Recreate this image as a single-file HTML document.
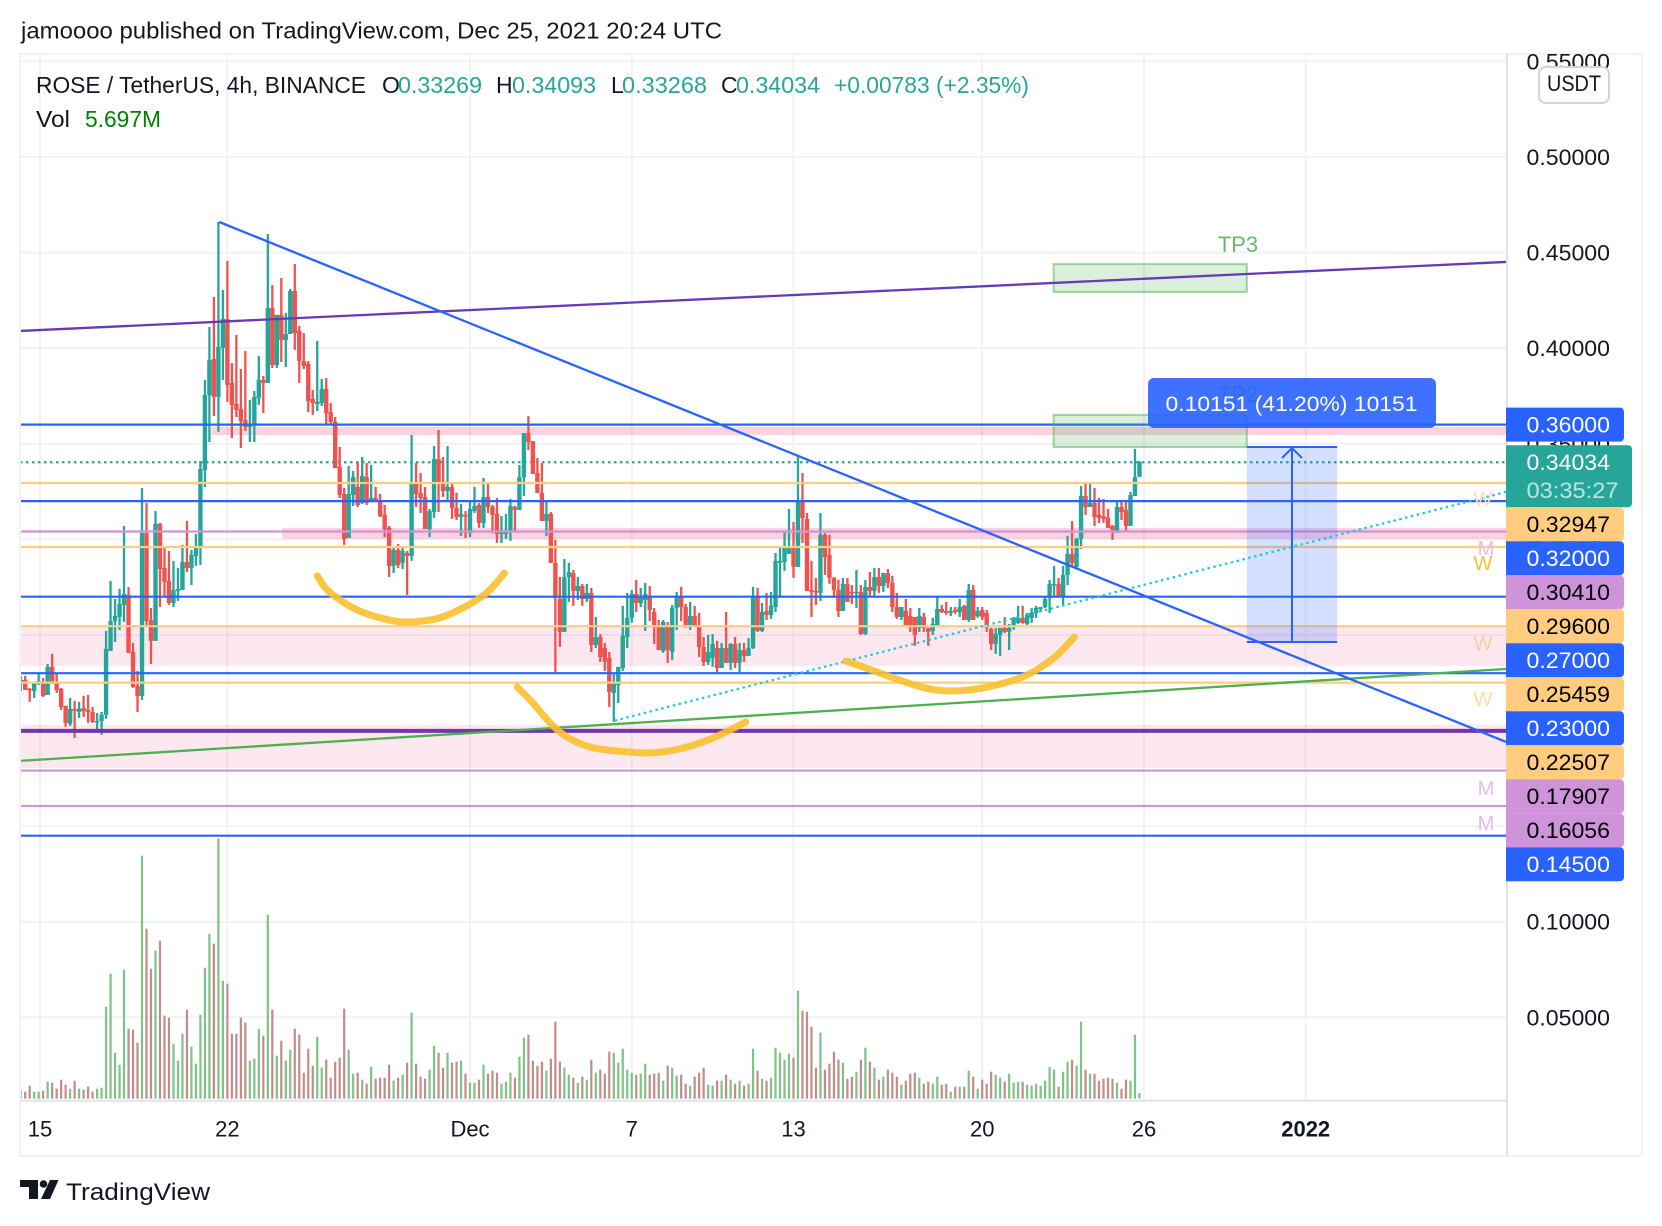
<!DOCTYPE html>
<html lang="en">
<head>
<meta charset="utf-8">
<title>ROSE / TetherUS chart</title>
<style>
html,body{margin:0;padding:0;background:#fff;}
svg{display:block;font-family:"Liberation Sans",sans-serif;}
</style>
</head>
<body>
<svg id="chart" xmlns="http://www.w3.org/2000/svg" width="1662" height="1226" viewBox="0 0 1662 1226">
  <defs>
    <clipPath id="plot-clip"><rect x="20" y="54" width="1487" height="1046"/></clipPath>
    <clipPath id="axis-clip"><rect x="1508" y="54" width="134" height="1046"/></clipPath>
  </defs>
  <rect x="0" y="0" width="1662" height="1226" fill="#ffffff"/>
  <text x="21" y="38.5" font-size="23" fill="#131722" textLength="701" lengthAdjust="spacingAndGlyphs">jamoooo published on TradingView.com, Dec 25, 2021 20:24 UTC</text>
  <g id="grid"></g>
  <g id="zones" clip-path="url(#plot-clip)"></g>
  <g id="last-line" clip-path="url(#plot-clip)"></g>
  <g id="volume" clip-path="url(#plot-clip)"></g>
  <g id="candles" clip-path="url(#plot-clip)"></g>
  <g id="tools" clip-path="url(#plot-clip)"></g>
  <g font-size="20" text-anchor="middle">
    <text x="1483" y="506" fill="#ffe0b2">W</text>
    <text x="1486" y="555" fill="#e1bee7">M</text>
    <text x="1483" y="570" fill="#fbc02d">W</text>
    <text x="1483" y="650" fill="#ffcc9c">W</text>
    <text x="1483" y="706" fill="#ffdca0">W</text>
    <text x="1486" y="795" fill="#e1bee7">M</text>
    <text x="1486" y="830" fill="#e1bee7">M</text>
  </g>
  <text x="1238" y="252" font-size="22" text-anchor="middle" fill="#66bb6a">TP3</text>
  <text x="1238" y="402" font-size="22" text-anchor="middle" fill="#66bb6a">TP2</text>
  <g>
    <rect x="1148" y="378" width="288" height="50" rx="6" fill="#2962ff" fill-opacity="0.9"/>
    <text x="1165.5" y="411" font-size="21" fill="#ffffff" textLength="252" lengthAdjust="spacingAndGlyphs">0.10151 (41.20%) 10151</text>
  </g>
  <g id="axes"></g>
  <g id="price-ticks" clip-path="url(#axis-clip)"></g>
  <g id="price-labels"></g>
  <g id="time-ticks"></g>
  <g>
    <rect x="1539" y="67" width="70" height="36" rx="7" fill="#ffffff" stroke="#d1d4dc" stroke-width="2"/>
    <text x="1574" y="91" font-size="22" text-anchor="middle" fill="#131722" textLength="54" lengthAdjust="spacingAndGlyphs">USDT</text>
  </g>
  <g font-size="23">
    <text x="36" y="93" fill="#131722" textLength="330" lengthAdjust="spacingAndGlyphs">ROSE / TetherUS, 4h, BINANCE</text>
    <text x="382" y="93" fill="#131722">O</text>
    <text x="398" y="93" fill="#26a69a" textLength="84" lengthAdjust="spacingAndGlyphs">0.33269</text>
    <text x="496" y="93" fill="#131722">H</text>
    <text x="512" y="93" fill="#26a69a" textLength="84" lengthAdjust="spacingAndGlyphs">0.34093</text>
    <text x="611" y="93" fill="#131722">L</text>
    <text x="622" y="93" fill="#26a69a" textLength="85" lengthAdjust="spacingAndGlyphs">0.33268</text>
    <text x="721" y="93" fill="#131722">C</text>
    <text x="736" y="93" fill="#26a69a" textLength="84" lengthAdjust="spacingAndGlyphs">0.34034</text>
    <text x="834" y="93" fill="#26a69a" textLength="195" lengthAdjust="spacingAndGlyphs">+0.00783 (+2.35%)</text>
    <text x="36" y="127" fill="#131722" textLength="34" lengthAdjust="spacingAndGlyphs">Vol</text>
    <text x="85" y="127" fill="#008000" textLength="76" lengthAdjust="spacingAndGlyphs">5.697M</text>
  </g>
  <g>
    <path d="M20 1180H38V1199H29V1187H20Z" fill="#131722"/>
    <circle cx="43.5" cy="1184" r="3.8" fill="#131722"/>
    <path d="M50 1180H58.5L50 1199H41Z" fill="#131722"/>
    <text x="66" y="1200" font-size="24" fill="#131722" textLength="144" lengthAdjust="spacingAndGlyphs">TradingView</text>
  </g>
</svg>
<script>
const opens = [
.2254,.2265,.2218,.2207,.2244,.2254,.2186,.2333,.2254,.2218,
.2129,.2035,.2113,.2097,.2118,.2108,.2097,.2045,.2050,.2082,
.2416,.2573,.2594,.2657,.2709,.2411,.2233,.2181,.3033,.2578,
.2469,.3081,.2850,.2782,.2667,.2730,.2735,.2882,.2850,.2913,
.2955,.3363,.3755,.3943,.3745,.4001,.4153,.3818,.3708,.3682,
.3624,.3588,.3593,.3739,.3834,.3818,.4210,.3912,.4174,.4043,
.4074,.4299,.4090,.3933,.3917,.3734,.3708,.3713,.3787,.3666,
.3614,.3379,.3237,.3007,.3232,.3274,.3190,.3326,.3201,.3216,
.3206,.3128,.3060,.2861,.2945,.2877,.2929,.2913,.3295,.3243,
.3222,.3054,.3143,.3420,.3295,.3253,.3274,.3164,.3117,.3128,
.3033,.3148,.3180,.3086,.3222,.3169,.3133,.3028,.3028,.3044,
.3169,.3154,.3326,.3556,.3514,.3347,.3243,.3096,.3133,.2877,
.2688,.2516,.2803,.2824,.2730,.2756,.2688,.2720,.2448,.2489,
.2432,.2380,.2197,.2238,.2327,.2489,.2589,.2714,.2667,.2683,
.2699,.2620,.2547,.2416,.2552,.2411,.2641,.2699,.2646,.2547,
.2599,.2542,.2437,.2359,.2380,.2432,.2327,.2432,.2354,.2453,
.2354,.2421,.2390,.2432,.2699,.2521,.2625,.2605,.2646,.2877,
.2882,.2924,.2965,.2856,.3206,.3107,.2735,.2730,.2720,.3023,
.2918,.2798,.2735,.2625,.2767,.2725,.2720,.2725,.2505,.2751,
.2730,.2803,.2756,.2824,.2772,.2646,.2594,.2625,.2599,.2594,
.2537,.2594,.2537,.2521,.2547,.2636,.2625,.2615,.2631,.2620,
.2652,.2578,.2735,.2599,.2631,.2615,.2531,.2453,.2500,.2537,
.2516,.2547,.2563,.2589,.2558,.2589,.2615,.2636,.2646,.2694,
.2761,.2767,.2699,.2814,.2924,.2856,.3002,.3227,.3169,.3190,
.3128,.3122,.3112,.3070,.3039,.3169,.3154,.3070,.3227,.33269];
const highs = [
.2286,.2286,.2223,.2249,.2296,.2275,.2348,.2401,.2296,.2223,
.2129,.2170,.2155,.2150,.2181,.2186,.2123,.2092,.2097,.2521,
.2782,.2688,.2741,.3070,.2751,.2458,.2312,.3269,.3190,.2641,
.3148,.3086,.2960,.2939,.2887,.2850,.2971,.3096,.2945,.3028,
.3410,.3834,.4111,.4268,.4660,.4304,.4456,.3922,.4069,.3891,
.3985,.3729,.3776,.3959,.3855,.4597,.4330,.4174,.4367,.4184,
.4310,.4440,.4116,.4079,.3933,.3781,.4038,.3839,.3844,.3713,
.3640,.3483,.3269,.3384,.3358,.3405,.3431,.3400,.3389,.3274,
.3237,.3180,.3070,.2960,.2976,.2965,.2939,.3546,.3400,.3347,
.3274,.3159,.3488,.3572,.3431,.3488,.3290,.3243,.3185,.3148,
.3201,.3274,.3190,.3321,.3300,.3180,.3216,.3122,.3133,.3211,
.3175,.3389,.3556,.3645,.3514,.3426,.3400,.3196,.3143,.2997,
.2803,.2897,.2877,.2840,.2803,.2767,.2767,.2746,.2594,.2505,
.2458,.2411,.2301,.2333,.2652,.2720,.2735,.2788,.2746,.2772,
.2756,.2641,.2578,.2578,.2568,.2657,.2725,.2751,.2662,.2673,
.2652,.2615,.2489,.2500,.2505,.2469,.2458,.2620,.2458,.2489,
.2458,.2458,.2484,.2751,.2746,.2667,.2720,.2725,.2929,.2960,
.3044,.3159,.3091,.3436,.3347,.3138,.2887,.2798,.3138,.3033,
.3023,.2803,.2788,.2798,.2798,.2761,.2840,.2761,.2788,.2829,
.2850,.2850,.2824,.2845,.2809,.2720,.2646,.2688,.2641,.2594,
.2641,.2615,.2537,.2589,.2699,.2657,.2673,.2646,.2646,.2688,
.2657,.2767,.2761,.2646,.2646,.2631,.2537,.2537,.2537,.2594,
.2558,.2594,.2652,.2652,.2615,.2641,.2652,.2646,.2699,.2788,
.2861,.2798,.2861,.3018,.3096,.3007,.3279,.3300,.3295,.3269,
.3216,.3211,.3159,.3075,.3196,.3196,.3196,.3248,.3473,.34093];
const lows = [
.2207,.2212,.2150,.2170,.2238,.2176,.2186,.2244,.2197,.2108,
.2019,.2024,.1961,.2066,.2071,.2040,.2040,.1998,.1977,.2061,
.2416,.2463,.2526,.2568,.2406,.2223,.2097,.2160,.2547,.2348,
.2469,.2646,.2699,.2657,.2646,.2678,.2735,.2829,.2761,.2861,
.2866,.3274,.3509,.3645,.3562,.3834,.3719,.3530,.3640,.3478,
.3567,.3509,.3509,.3703,.3661,.3818,.3896,.3896,.3928,.3902,
.4074,.3991,.3818,.3891,.3666,.3651,.3671,.3698,.3598,.3598,
.3373,.3216,.2971,.3007,.3175,.3169,.3185,.3180,.3196,.3196,
.3117,.3012,.2803,.2824,.2850,.2845,.2709,.2887,.3169,.3138,
.3054,.3012,.3112,.3143,.3222,.3206,.3107,.3101,.3018,.3007,
.3012,.3138,.3060,.3060,.3138,.3033,.2981,.2981,.3002,.2992,
.3044,.3154,.3227,.3467,.3342,.3243,.3096,.3018,.2877,.2296,
.2437,.2516,.2673,.2652,.2683,.2652,.2673,.2411,.2432,.2359,
.2312,.2123,.2045,.2144,.2312,.2432,.2563,.2620,.2646,.2521,
.2573,.2453,.2421,.2406,.2354,.2369,.2526,.2573,.2537,.2526,
.2542,.2385,.2338,.2343,.2333,.2301,.2327,.2354,.2317,.2327,
.2306,.2359,.2390,.2427,.2516,.2516,.2578,.2584,.2620,.2694,
.2835,.2924,.2798,.2856,.2981,.2730,.2594,.2657,.2678,.2814,
.2767,.2694,.2594,.2625,.2673,.2662,.2641,.2500,.2500,.2699,
.2704,.2720,.2725,.2746,.2620,.2584,.2578,.2542,.2516,.2443,
.2516,.2516,.2443,.2500,.2542,.2615,.2605,.2599,.2610,.2594,
.2578,.2568,.2578,.2589,.2578,.2516,.2421,.2401,.2390,.2510,
.2421,.2526,.2558,.2558,.2552,.2563,.2589,.2620,.2641,.2615,
.2699,.2699,.2657,.2761,.2856,.2850,.2950,.3128,.3169,.3070,
.3086,.3086,.3060,.2997,.3033,.3101,.3044,.3070,.3227,.33268];
const closes = [
.2265,.2212,.2212,.2249,.2259,.2181,.2333,.2244,.2212,.2123,
.2040,.2113,.2102,.2113,.2102,.2097,.2045,.2050,.2082,.2427,
.2573,.2599,.2662,.2714,.2406,.2228,.2181,.3033,.2573,.2469,
.3081,.2845,.2777,.2667,.2735,.2741,.2882,.2850,.2918,.2960,
.3368,.3755,.3938,.3745,.4006,.4153,.3808,.3703,.3677,.3619,
.3588,.3598,.3745,.3834,.3818,.4210,.3912,.4174,.4043,.4074,
.4299,.4079,.3933,.3907,.3724,.3713,.3719,.3787,.3661,.3614,
.3373,.3232,.3002,.3237,.3326,.3180,.3332,.3190,.3216,.3201,
.3122,.3054,.2861,.2945,.2866,.2939,.2913,.3290,.3237,.3216,
.3054,.3148,.3420,.3295,.3253,.3274,.3164,.3117,.3133,.3122,
.3159,.3175,.3086,.3222,.3169,.3128,.3028,.3039,.3044,.3175,
.3154,.3326,.3556,.3509,.3342,.3243,.3096,.3133,.2877,.2693,
.2516,.2803,.2829,.2730,.2756,.2688,.2720,.2448,.2489,.2385,
.2359,.2202,.2244,.2333,.2495,.2589,.2714,.2667,.2694,.2714,
.2631,.2542,.2421,.2568,.2421,.2641,.2699,.2646,.2552,.2599,
.2542,.2437,.2359,.2411,.2453,.2327,.2432,.2354,.2453,.2354,
.2421,.2390,.2432,.2704,.2521,.2620,.2605,.2652,.2887,.2887,
.2965,.2965,.2856,.3201,.3112,.2730,.2725,.2725,.3023,.2908,
.2798,.2735,.2625,.2767,.2673,.2720,.2725,.2505,.2751,.2730,
.2803,.2756,.2824,.2772,.2646,.2594,.2646,.2542,.2547,.2500,
.2599,.2537,.2516,.2558,.2636,.2620,.2615,.2625,.2620,.2646,
.2578,.2735,.2578,.2625,.2594,.2537,.2453,.2505,.2537,.2516,
.2537,.2589,.2589,.2563,.2605,.2615,.2641,.2646,.2688,.2767,
.2767,.2699,.2814,.2924,.2877,.3002,.3227,.3169,.3190,.3117,
.3112,.3107,.3060,.3049,.3169,.3143,.3070,.3232,.3326,.34034];
const volumes = [
8,7,13,7,7,8,17,16,10,19,
14,10,18,10,9,12,7,10,11,92,
125,46,34,129,70,69,56,243,170,130,
148,158,83,81,55,38,65,89,52,35,
84,131,165,155,260,118,115,65,65,81,
76,38,40,70,63,184,89,43,58,38,
49,70,64,26,50,33,62,31,39,21,
37,41,90,49,25,26,19,15,32,20,
21,21,34,18,21,24,36,86,35,22,
20,29,53,46,31,46,36,37,38,25,
16,16,19,34,25,28,26,15,17,26,
21,42,61,64,38,33,37,28,40,77,
37,31,24,21,16,22,19,39,26,29,
25,47,46,36,50,29,26,24,25,35,
24,25,26,18,33,31,23,24,15,13,
22,26,31,14,13,18,18,24,19,15,
18,13,15,50,28,20,18,21,51,46,
39,45,41,108,88,87,72,31,66,29,
35,47,39,36,20,22,27,39,51,37,
31,19,22,29,26,22,14,18,25,26,
21,15,17,15,22,14,15,7,12,12,
12,28,22,10,19,15,27,24,21,17,
25,16,17,17,14,13,15,13,18,32,
29,12,27,37,39,33,77,29,25,25,
18,20,21,20,16,10,19,18,64,5.697];

const priceTicks = [0.55,0.50,0.45,0.40,0.35,0.30,0.25,0.20,0.15,0.10,0.05];
const timeLabels = ['15','22','Dec','7','13','20','26','2022'];
const timeBars = [4.3,46,100,136,172,214,250,286];

const levelPrices = [0.36,0.34034,0.32947,0.32,0.3041,0.296,0.27,0.25459,0.23,0.22507,0.17907,0.16056,0.145];
const levelKinds = ['blue','last','orange','blue','purple','orange','blue','orange','blue','orange','purple','purple','blue'];
const lastCountdown = '03:35:27';
const thickLevelPrice = 0.1998;

const zoneTops = [0.3588,0.3060,0.2542,0.2030];
const zoneBottoms = [0.3546,0.3002,0.2338,0.1804];
const zoneStartBars = [42.4,58.2,-1,-1];

const downTrendBars = [44.2,330.6];
const downTrendPrices = [0.4660,0.1940];
const upperTrendBars = [-0.2,330.6];
const upperTrendPrices = [0.4090,0.4451];
const lowerTrendBars = [-0.2,330.6];
const lowerTrendPrices = [0.1841,0.2322];
const dottedTrendBars = [132.2,330.6];
const dottedTrendPrices = [0.2052,0.3248];

const targetBars = [229.9,272.9];
const tp3Prices = [0.4440,0.4294];
const tp2Prices = [0.3651,0.3483];
const measureBars = [272.9,293.0];
const measurePrices = [0.3483,0.2463];

const curve1Bars = [66.0,68.7,74.9,82.1,87.0,93.2,98.8,103.7,107.7];
const curve1Prices = [0.2809,0.2725,0.2631,0.2578,0.2568,0.2589,0.2646,0.2720,0.2824];
const curve2Bars = [110.5,114.0,117.8,121.6,126.7,132.7,140.1,146.7,154.1,161.4];
const curve2Prices = [0.2228,0.2144,0.2040,0.1966,0.1914,0.1893,0.1883,0.1904,0.1961,0.2045];
const curve3Bars = [183.7,190.6,200.4,207.3,215.3,224.0,230.2,234.5];
const curve3Prices = [0.2364,0.2306,0.2228,0.2207,0.2228,0.2291,0.2385,0.2489];

const NS = 'http://www.w3.org/2000/svg';
const PLOT_LEFT = 20, PLOT_RIGHT = 1507, PLOT_TOP = 54, TIME_AXIS_Y = 1100, FRAME_BOTTOM = 1156, FRAME_RIGHT = 1642;
const VOLUME_BASE = 1098.7, VOLUME_PX_PER_UNIT = 1;
const LABEL_HEIGHT = 34, LAST_LABEL_HEIGHT = 62;
function xOf(bar){ return 20.7 + 4.493 * bar; }
function yOf(price){ return 157 + (0.5 - price) * 1911.75; }
function volTop(v){ return VOLUME_BASE - v * VOLUME_PX_PER_UNIT; }
function make(tag, attrs, parent){
  const el = document.createElementNS(NS, tag);
  for (const k in attrs) el.setAttribute(k, attrs[k]);
  parent.appendChild(el);
  return el;
}
function smoothPath(pts){
  let d = 'M' + pts[0][0] + ' ' + pts[0][1];
  for (let i = 0; i < pts.length - 1; i++) {
    const p0 = pts[Math.max(i - 1, 0)], p1 = pts[i], p2 = pts[i + 1], p3 = pts[Math.min(i + 2, pts.length - 1)];
    d += 'C' + (p1[0] + (p2[0] - p0[0]) / 6) + ' ' + (p1[1] + (p2[1] - p0[1]) / 6) + ' ' +
         (p2[0] - (p3[0] - p1[0]) / 6) + ' ' + (p2[1] - (p3[1] - p1[1]) / 6) + ' ' + p2[0] + ' ' + p2[1];
  }
  return d;
}

const gridG = document.getElementById('grid');
priceTicks.forEach(function(p){
  const l = make('line', {x1:PLOT_LEFT, x2:PLOT_RIGHT, y1:yOf(p), y2:yOf(p), stroke:'#f2f2f5', 'stroke-width':2}, gridG);
  
  
});
timeBars.forEach(function(b){
  const l = make('line', {x1:xOf(b), x2:xOf(b), y1:PLOT_TOP, y2:TIME_AXIS_Y, stroke:'#f2f2f5', 'stroke-width':2}, gridG);
  
  
});

const zonesG = document.getElementById('zones');
zoneTops.forEach(function(top, i){
  const dark = i < 2;
  const z = make('rect', {x:Math.max(xOf(zoneStartBars[i]), PLOT_LEFT), y:yOf(top),
    width:PLOT_RIGHT - Math.max(xOf(zoneStartBars[i]), PLOT_LEFT), height:yOf(zoneBottoms[i]) - yOf(top),
    fill: dark ? 'rgba(233,30,99,0.2)' : 'rgba(233,30,99,0.1)'}, zonesG);
  
  
});

const lastG = document.getElementById('last-line');
const lastLevel = make('line', {x1:PLOT_LEFT, x2:PLOT_RIGHT, y1:yOf(closes[closes.length - 1]), y2:yOf(closes[closes.length - 1]),
  stroke:'#26a69a', 'stroke-width':2.2, 'stroke-dasharray':'2.5 3.5'}, lastG);



const volG = document.getElementById('volume');
volumes.forEach(function(v, i){
  const up = closes[i] >= opens[i];
  const b = make('rect', {x:xOf(i) - 1.1, y:volTop(v), width:2.2, height:VOLUME_BASE - volTop(v), fill: up ? '#7fc286' : '#c28c8a'}, volG);
  
  
});

const candleG = document.getElementById('candles');
opens.forEach(function(o, i){
  const c = closes[i], up = c >= o, color = up ? '#26a69a' : '#ef5350', cx = xOf(i);
  const wick = make('rect', {x:cx - 1.15, y:yOf(highs[i]), width:2.3, height:yOf(lows[i]) - yOf(highs[i]), fill:color}, candleG);
  
  
  const top = yOf(Math.max(o, c));
  const body = make('rect', {x:cx - 2.2, y:top, width:4.4, height:Math.max(yOf(Math.min(o, c)) - top, 1.5), fill:color}, candleG);
  
  
});

const toolsG = document.getElementById('tools');
const levelColors = {blue:'#2962ff', orange:'#ffcc80', purple:'#ce93d8', last:'#26a69a'};
levelPrices.forEach(function(p, i){
  if (levelKinds[i] === 'last') return;
  const l = make('line', {x1:PLOT_LEFT, x2:PLOT_RIGHT, y1:yOf(p), y2:yOf(p), stroke:levelColors[levelKinds[i]], 'stroke-width':2.2}, toolsG);
  
  
});
const thick = make('line', {x1:PLOT_LEFT, x2:PLOT_RIGHT, y1:yOf(thickLevelPrice), y2:yOf(thickLevelPrice), stroke:'#7436ad', 'stroke-width':4}, toolsG);



function targetBox(prices){
  const r = make('rect', {x:xOf(targetBars[0]), y:yOf(prices[0]), width:xOf(targetBars[1]) - xOf(targetBars[0]),
    height:yOf(prices[1]) - yOf(prices[0]), fill:'rgba(76,175,80,0.2)', stroke:'rgba(76,175,80,0.5)', 'stroke-width':2}, toolsG);
  
  return r;
}
const tp3Box = targetBox(tp3Prices);

const tp2Box = targetBox(tp2Prices);


const mx0 = xOf(measureBars[0]), mx1 = xOf(measureBars[1]), my0 = yOf(measurePrices[0]), my1 = yOf(measurePrices[1]), mxc = (mx0 + mx1) / 2;
const mBox = make('rect', {x:mx0, y:my0, width:mx1 - mx0, height:my1 - my0, fill:'rgba(41,98,255,0.2)'}, toolsG);


const mTop = make('line', {x1:mx0, x2:mx1, y1:my0, y2:my0, stroke:'#2962ff', 'stroke-width':2}, toolsG);


const mBottom = make('line', {x1:mx0, x2:mx1, y1:my1, y2:my1, stroke:'#2962ff', 'stroke-width':2}, toolsG);


const mArrow = make('path', {d:'M' + mxc + ' ' + my1 + 'V' + my0 + 'M' + (mxc - 10) + ' ' + (my0 + 11) + 'L' + mxc + ' ' + (my0 + 1) + 'L' + (mxc + 10) + ' ' + (my0 + 11),
  fill:'none', stroke:'#2962ff', 'stroke-width':2}, toolsG);



function trend(bars, prices, color, dash){
  const attrs = {x1:xOf(bars[0]), y1:yOf(prices[0]), x2:xOf(bars[1]), y2:yOf(prices[1]), stroke:color, 'stroke-width':2.3};
  if (dash) attrs['stroke-dasharray'] = dash;
  const l = make('line', attrs, toolsG);
  
  return l;
}
const lowerTrend = trend(lowerTrendBars, lowerTrendPrices, '#4caf50');

const dottedTrend = trend(dottedTrendBars, dottedTrendPrices, '#26c6da', '2.5 3.5');

const upperTrend = trend(upperTrendBars, upperTrendPrices, '#673ab7');

const downTrend = trend(downTrendBars, downTrendPrices, '#2962ff');


function brush(bars, prices){
  const pts = bars.map(function(b, i){ return [xOf(b), yOf(prices[i])]; });
  const p = make('path', {d:smoothPath(pts), fill:'none', stroke:'#fbc02d', 'stroke-opacity':0.9, 'stroke-width':7, 'stroke-linecap':'round', 'stroke-linejoin':'round'}, toolsG);
  
  return p;
}
const brush1 = brush(curve1Bars, curve1Prices);

const brush2 = brush(curve2Bars, curve2Prices);

const brush3 = brush(curve3Bars, curve3Prices);


const axesG = document.getElementById('axes');
const frame = make('rect', {x:PLOT_LEFT, y:PLOT_TOP, width:FRAME_RIGHT - PLOT_LEFT, height:FRAME_BOTTOM - PLOT_TOP, fill:'none', stroke:'#f0f3fa', 'stroke-width':2}, axesG);


const priceAxisLine = make('line', {x1:PLOT_RIGHT, x2:PLOT_RIGHT, y1:PLOT_TOP, y2:FRAME_BOTTOM, stroke:'#e0e3eb', 'stroke-width':2}, axesG);


const timeAxisLine = make('line', {x1:PLOT_LEFT, x2:PLOT_RIGHT, y1:TIME_AXIS_Y + 0.7, y2:TIME_AXIS_Y + 0.7, stroke:'#e0e3eb', 'stroke-width':2}, axesG);



const tickG = document.getElementById('price-ticks');
priceTicks.forEach(function(p){
  const t = make('text', {x:1526.5, y:yOf(p) + 8, 'font-size':22.5, fill:'#131722', textLength:83.5, lengthAdjust:'spacingAndGlyphs'}, tickG);
  
  
  t.textContent = p.toFixed(5);
});

const labelG = document.getElementById('price-labels');
let nextTop = 0;
levelPrices.forEach(function(p, i){
  const kind = levelKinds[i], isLast = kind === 'last';
  const h = isLast ? LAST_LABEL_HEIGHT : LABEL_HEIGHT;
  const top = Math.max(yOf(p) - LABEL_HEIGHT / 2, nextTop);
  nextTop = top + h;
  const w = isLast ? 126 : 118;
  const bg = make('path', {d:'M1506 ' + top + 'H' + (1506 + w - 4) + 'a4 4 0 0 1 4 4V' + (top + h - 4) + 'a4 4 0 0 1 -4 4H1506Z', fill:levelColors[kind]}, labelG);
  
  
  const dark = kind === 'orange' || kind === 'purple';
  const t = make('text', {x:1526.5, y:top + 25, 'font-size':22.5, fill: dark ? '#000000' : '#ffffff', textLength:83.5, lengthAdjust:'spacingAndGlyphs'}, labelG);
  
  
  t.textContent = p.toFixed(5);
  if (isLast) {
    const cd = make('text', {x:1526.5, y:top + 53, 'font-size':22.5, fill:'#ffffff', 'fill-opacity':0.7, textLength:92, lengthAdjust:'spacingAndGlyphs'}, labelG);
    
    
    cd.textContent = lastCountdown;
  }
});

const timeG = document.getElementById('time-ticks');
timeLabels.forEach(function(s, i){
  const t = make('text', {x:xOf(timeBars[i]), y:1136.5, 'font-size':22, 'text-anchor':'middle', fill:'#131722', 'font-weight': s === '2022' ? 'bold' : 'normal'}, timeG);
  
  
  t.textContent = s;
});
</script>
</body>
</html>
